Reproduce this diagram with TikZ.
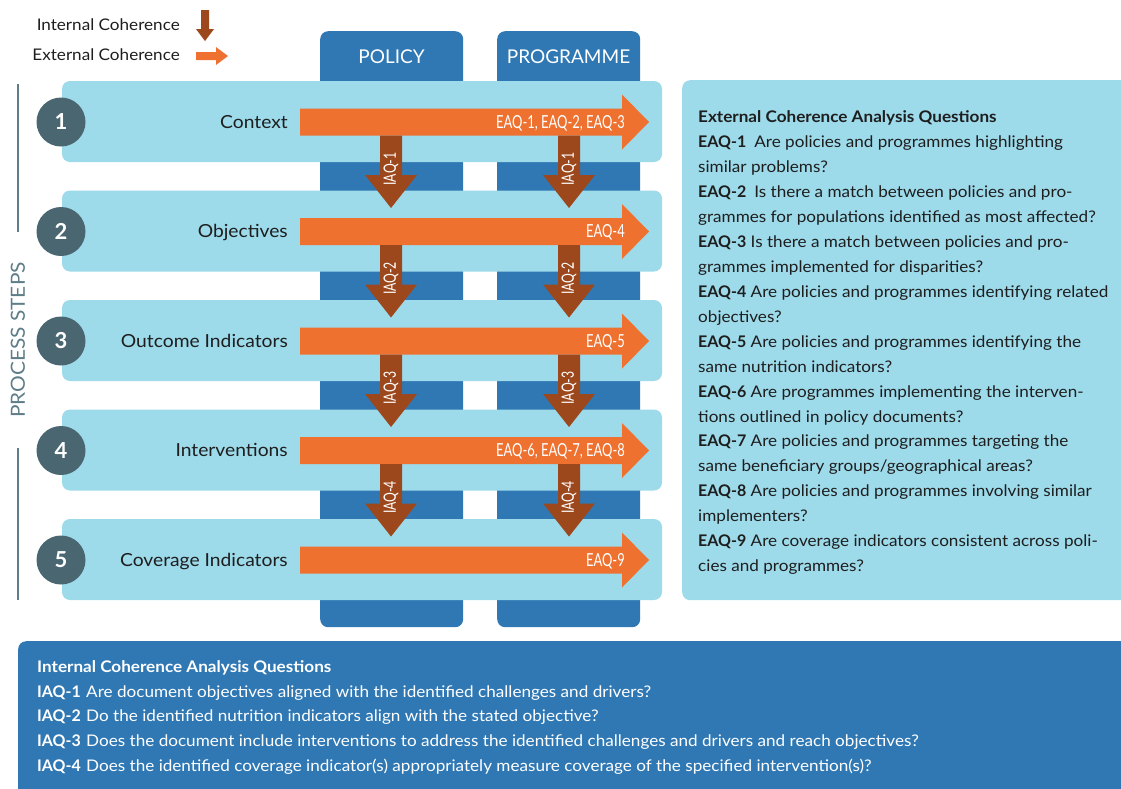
\documentclass[tikz,border=0pt]{standalone}
\usepackage{fontspec}
\setmainfont{Lato}[FakeStretch=1.07]
\newfontfamily\plainlato{Lato}
\newfontfamily\condensed[FakeStretch=0.72]{Lato}
\usetikzlibrary{calc}

\definecolor{rowblue}{HTML}{9DDAEA}
\definecolor{colblue}{HTML}{2F78B4}
\definecolor{extorange}{HTML}{EE7130}
\definecolor{intbrown}{HTML}{9C481C}
\definecolor{stepgrey}{HTML}{4A6771}
\definecolor{railgrey}{HTML}{5E7D88}
\definecolor{inktext}{HTML}{1E1E1E}

% bold question keys, set without the extra stretch of the body text
\newcommand{\qkey}[1]{{\plainlato\bfseries #1}}

\begin{document}
\begin{tikzpicture}[x=1pt, y=-1pt,
  colbox/.style={fill=colblue, rounded corners=8pt, inner sep=0pt, anchor=north west},
  rowbox/.style={fill=rowblue, rounded corners=8pt, inner sep=0pt},
  stepnum/.style={circle, fill=stepgrey, minimum size=49pt, inner sep=0pt, text=white,
    font=\plainlato\bfseries\fontsize{22}{22}\selectfont},
  steplabel/.style={anchor=base east, inner sep=0pt, text=inktext, font=\fontsize{18}{18}\selectfont},
  header/.style={text=white, inner sep=0pt, font=\plainlato\fontsize{19}{19}\selectfont},
  eaqlabel/.style={anchor=base east, inner sep=0pt, text=white, font=\condensed\fontsize{18}{18}\selectfont},
  iaqlabel/.style={rotate=90, inner sep=0pt, text=white, font=\condensed\fontsize{17}{17}\selectfont},
  legendtext/.style={anchor=base east, inner sep=0pt, text=inktext, font=\fontsize{16}{16}\selectfont},
  panelline/.style={anchor=base west, inner sep=0pt, text=inktext, font=\fontsize{16}{16}\selectfont},
  iaqline/.style={anchor=base west, inner sep=0pt, text=white, font=\fontsize{16}{16}\selectfont},
  extarrow/.style={fill=extorange},
  intarrow/.style={fill=intbrown},
  rail/.style={railgrey, line width=1.5pt},
]
\useasboundingbox (0,0) rectangle (1121,788);

% legend
\node[legendtext] (legint) at (180,30) {Internal Coherence};
\node[legendtext] (legext) at (180,60) {External Coherence};
\fill[intarrow] (201,10) -- (209,10) -- (209,29) -- (214,29) -- (205,41) -- (196,29) -- (201,29) -- cycle;
\fill[extarrow] (196,52) -- (216,52) -- (216,47) -- (228,56) -- (216,65) -- (216,60) -- (196,60) -- cycle;

% the two document columns
\node[colbox, minimum width=143pt, minimum height=596pt] (policy) at (320,31) {};
\node[colbox, minimum width=143pt, minimum height=596pt] (programme) at (497,31) {};
\node[header] (policyhead) at (391.5,57) {POLICY};
\node[header] (programmehead) at (568.5,57) {PROGRAMME};

% process steps rail
\node[rotate=90, inner sep=0pt, text=railgrey, font=\fontsize{19.5}{19.5}\selectfont] (railtext) at (18,340) {PROCESS STEPS};
\coordinate (railtop1) at (18,84);
\coordinate (railtop2) at (18,232);
\coordinate (railbot1) at (18,448);
\coordinate (railbot2) at (18,600);
\draw[rail] (railtop1) -- (railtop2);
\draw[rail] (railbot1) -- (railbot2);

% step rows with external coherence arrows
\foreach \i/\lab/\eaq in {1/Context/{EAQ-1, EAQ-2, EAQ-3}, 2/Objectives/EAQ-4,
    3/Outcome Indicators/EAQ-5, 4/Interventions/{EAQ-6, EAQ-7, EAQ-8}, 5/Coverage Indicators/EAQ-9}{
  \pgfmathsetmacro\c{122+109.5*(\i-1)}
  \node[rowbox, minimum width=600pt, minimum height=81pt] (row\i) at (362,\c-0.5) {};
  \node[stepnum] (num\i) at (61,\c) {\i};
  \node[steplabel] (lab\i) at (288,\c+6) {\lab};
  \fill[extarrow] (300,\c-13.5) -- (622,\c-13.5) -- (622,\c-27.5) -- (649,\c)
    -- (622,\c+27.5) -- (622,\c+13.5) -- (300,\c+13.5) -- cycle;
  \node[eaqlabel] (eaq\i) at (625,\c+6) {\eaq};
}

% internal coherence arrows between consecutive steps
\foreach \i in {1,...,4}{
  \pgfmathsetmacro\c{122+109.5*(\i-1)}
  \foreach \x/\col in {391/pol,569/prg}{
    \fill[intarrow] (\x-11,\c+13.5) -- (\x+11,\c+13.5) -- (\x+11,\c+53) -- (\x+26,\c+53)
      -- (\x,\c+86) -- (\x-26,\c+53) -- (\x-11,\c+53) -- cycle;
    \node[iaqlabel] (iaq\col\i) at (\x,\c+47) {IAQ-\i};
  }
}

% external coherence questions panel
\node[rowbox, anchor=north west, minimum width=460pt, minimum height=520pt] (eqpanel) at (682,80) {};
\node[panelline, font=\bfseries\fontsize{16}{16}\selectfont] (eq0) at (698,122.7) {External Coherence Analysis Questions};
\node[panelline] (eq1) at (698,147.6) {\qkey{EAQ-1}\enspace Are policies and programmes highlighting};
\node[panelline] (eq2) at (698,172.6) {similar problems?};
\node[panelline] (eq3) at (698,197.5) {\qkey{EAQ-2}\enspace Is there a match between policies and pro-};
\node[panelline] (eq4) at (698,222.5) {grammes for populations identified as most affected?};
\node[panelline] (eq5) at (698,247.4) {\qkey{EAQ-3} Is there a match between policies and pro-};
\node[panelline] (eq6) at (698,272.3) {grammes implemented for disparities?};
\node[panelline] (eq7) at (698,297.3) {\qkey{EAQ-4} Are policies and programmes identifying related};
\node[panelline] (eq8) at (698,322.2) {objectives?};
\node[panelline] (eq9) at (698,347.2) {\qkey{EAQ-5} Are policies and programmes identifying the};
\node[panelline] (eq10) at (698,372.1) {same nutrition indicators?};
\node[panelline] (eq11) at (698,397.0) {\qkey{EAQ-6} Are programmes implementing the interven-};
\node[panelline] (eq12) at (698,422.0) {tions outlined in policy documents?};
\node[panelline] (eq13) at (698,446.9) {\qkey{EAQ-7} Are policies and programmes targeting the};
\node[panelline] (eq14) at (698,471.9) {same beneficiary groups/geographical areas?};
\node[panelline] (eq15) at (698,496.8) {\qkey{EAQ-8} Are policies and programmes involving similar};
\node[panelline] (eq16) at (698,521.7) {implementers?};
\node[panelline] (eq17) at (698,546.7) {\qkey{EAQ-9} Are coverage indicators consistent across poli-};
\node[panelline] (eq18) at (698,571.6) {cies and programmes?};

% internal coherence questions panel
\node[colbox, minimum width=1120pt, minimum height=170pt] (iqpanel) at (18,641) {};
\node[iaqline, font=\bfseries\fontsize{16}{16}\selectfont] (iq0) at (37,672.7) {Internal Coherence Analysis Questions};
\node[iaqline] (iqk1) at (37,697.2) {\qkey{IAQ-1}};
\node[iaqline] (iq1) at (86,697.2) {Are document objectives aligned with the identified challenges and drivers?};
\node[iaqline] (iqk2) at (37,721.8) {\qkey{IAQ-2}};
\node[iaqline] (iq2) at (86,721.8) {Do the identified nutrition indicators align with the stated objective?};
\node[iaqline] (iqk3) at (37,746.5) {\qkey{IAQ-3}};
\node[iaqline] (iq3) at (86,746.5) {Does the document include interventions to address the identified challenges and drivers and reach objectives?};
\node[iaqline] (iqk4) at (37,771.2) {\qkey{IAQ-4}};
\node[iaqline] (iq4) at (86,771.2) {Does the identified coverage indicator(s) appropriately measure coverage of the specified intervention(s)?};
\end{tikzpicture}
\end{document}
